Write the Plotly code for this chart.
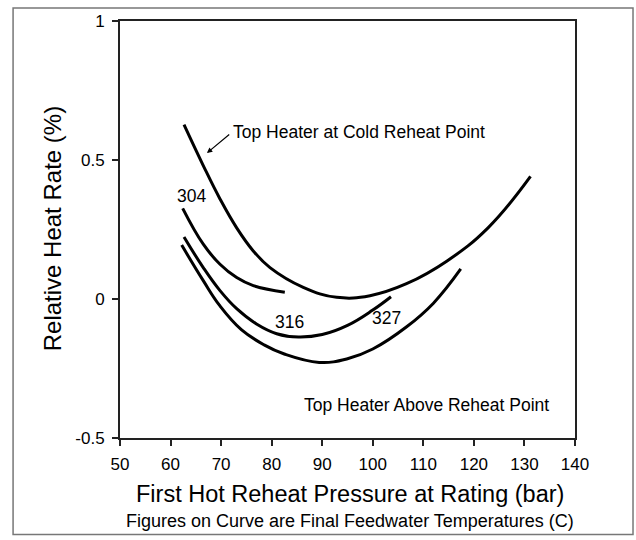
import plotly.graph_objects as go

# ---- data ----
cold_x = [62.66, 66.47, 69.78, 73.08, 76.36, 79.67, 86.25, 92.86, 99.45, 106.67, 114.7, 122.8, 131.2]
cold_y = [0.627, 0.480, 0.360, 0.256, 0.173, 0.113, 0.042, 0.006, 0.012, 0.055, 0.137, 0.256, 0.441]

t304_x = [62.4, 66.47, 69.78, 73.08, 76.36, 82.6]
t304_y = [0.326, 0.197, 0.125, 0.077, 0.048, 0.024]

t316_x = [62.66, 66.47, 69.78, 73.08, 77.0, 81.0, 85.3, 90.0, 95.0, 100.0, 103.6]
t316_y = [0.223, 0.113, 0.030, -0.035, -0.090, -0.125, -0.137, -0.128, -0.095, -0.040, 0.008]

t327_x = [62.2, 66.47, 69.78, 74.0, 78.5, 82.5, 89.4, 95.0, 100.0, 106.7, 112.0, 117.4]
t327_y = [0.194, 0.066, -0.025, -0.110, -0.165, -0.198, -0.228, -0.215, -0.180, -0.100, -0.015, 0.108]

x_ticks = [50, 60, 70, 80, 90, 100, 110, 120, 130, 140]
y_ticks = [-0.5, 0, 0.5, 1]
y_tick_text = ["-0.5", "0", "0.5", "1"]

FONT = "Liberation Sans, Arial, Helvetica, sans-serif"

fig = go.Figure()
for xs, ys in [(cold_x, cold_y), (t304_x, t304_y), (t316_x, t316_y), (t327_x, t327_y)]:
    fig.add_trace(go.Scatter(x=xs, y=ys, mode="lines",
                             line=dict(color="black", width=3, shape="spline", smoothing=1.2),
                             showlegend=False, hoverinfo="skip"))

annots = [
    dict(x=72.0, y=0.6, text="Top Heater at Cold Reheat Point", xanchor="left", yanchor="middle"),
    dict(x=64.2, y=0.37, text="304", xanchor="center", yanchor="middle"),
    dict(x=83.6, y=-0.082, text="316", xanchor="center", yanchor="middle"),
    dict(x=102.8, y=-0.068, text="327", xanchor="center", yanchor="middle"),
    dict(x=110.7, y=-0.382, text="Top Heater Above Reheat Point", xanchor="center", yanchor="middle"),
]
for a in annots:
    fig.add_annotation(**a, xref="x", yref="y", showarrow=False,
                       font=dict(family=FONT, size=17.5, color="black"))

# arrow
fig.add_annotation(x=67.2, y=0.525, ax=71.9, ay=0.596, xref="x", yref="y", axref="x", ayref="y",
                   text="", showarrow=True, arrowhead=2, arrowsize=0.9, arrowwidth=1.2,
                   arrowcolor="black")

# titles
fig.add_annotation(x=0.505, y=-0.134, xref="paper", yref="paper", showarrow=False,
                   text="First Hot Reheat Pressure at Rating (bar)", xanchor="center", yanchor="middle",
                   font=dict(family=FONT, size=23.5, color="black"))
fig.add_annotation(x=0.505, y=-0.198, xref="paper", yref="paper", showarrow=False,
                   text="Figures on Curve are Final Feedwater Temperatures (C)", xanchor="center",
                   yanchor="middle", font=dict(family=FONT, size=18, color="black"))
fig.add_annotation(x=-0.149, y=0.501, xref="paper", yref="paper", showarrow=False,
                   text="Relative Heat Rate (%)", textangle=-90, xanchor="center", yanchor="middle",
                   font=dict(family=FONT, size=24, color="black"))

# outer border
fig.add_shape(type="rect", xref="paper", yref="paper", x0=-0.235, x1=1.1275, y0=-0.2315, y1=1.031,
              line=dict(color="#777777", width=1.5), fillcolor="rgba(0,0,0,0)")

fig.update_xaxes(range=[50, 140], tickvals=x_ticks, showgrid=False, zeroline=False,
                 showline=True, linecolor="#222222", linewidth=2, mirror=True,
                 ticks="outside", ticklen=6, tickwidth=2, tickcolor="#222222",
                 ticklabelstandoff=4,
                 tickfont=dict(family=FONT, size=17, color="black"))
fig.update_yaxes(range=[-0.5, 1], tickvals=y_ticks, ticktext=y_tick_text, showgrid=False,
                 zeroline=False, showline=True, linecolor="#222222", linewidth=2, mirror=True,
                 ticks="outside", ticklen=6, tickwidth=2, tickcolor="#222222",
                 ticklabelstandoff=4,
                 tickfont=dict(family=FONT, size=17, color="black"))

fig.update_layout(width=636, height=540, margin=dict(l=120, r=61, t=19, b=102),
                  plot_bgcolor="white", paper_bgcolor="white",
                  font=dict(family=FONT, color="black"))

fig.write_html("out.html", config={"displayModeBar": False},
               post_script="document.body.style.margin='0';")
